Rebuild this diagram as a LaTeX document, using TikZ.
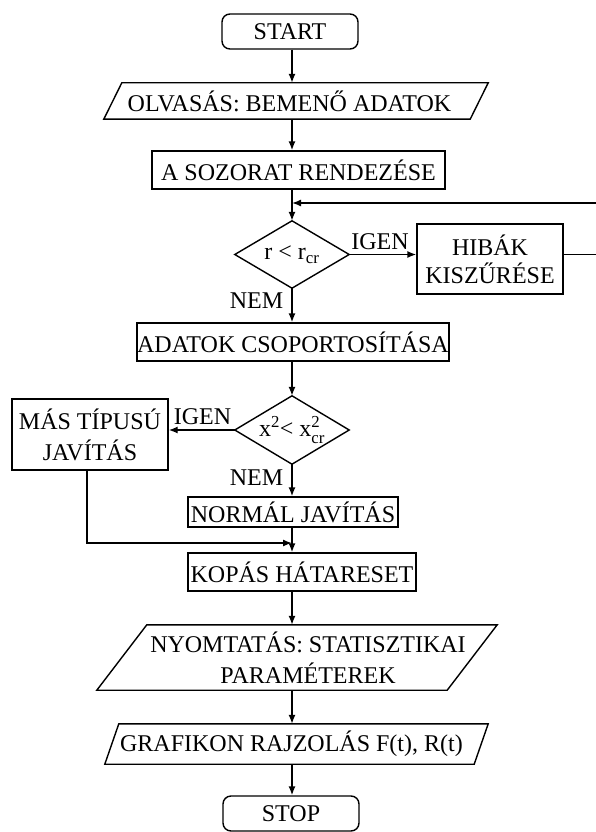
\documentclass[tikz,border=0pt]{standalone}
\usepackage{amsmath}
\usepackage{fontspec}
\setmainfont{Liberation Serif}
\usetikzlibrary{arrows.meta}
\newcommand\fsz{\fontsize{24}{28}\selectfont}
\newcommand\fszb{\fontsize{24}{31}\selectfont}
\begin{document}
\begin{tikzpicture}[x=1pt,y=-1pt,
  lw/.style={line width=1.4pt},
  box/.style={draw, lw, rectangle, font=\fsz, inner sep=0pt, align=center},
  term/.style={box, rounded corners=8pt},
  shapebox/.style={rectangle, inner sep=0pt, font=\fsz, align=center},
  lbl/.style={font=\fsz, inner sep=0pt},
  arr/.style={lw, -{Latex[length=9pt,width=7pt]}}]
\useasboundingbox (0,0) rectangle (595,832);

\coordinate (sp) at (292,0);
\coordinate (rc) at (597,0);
\coordinate (fb) at (292,203);
\coordinate (mx) at (87,0);
\coordinate (jn) at (292,543);

% nodes
\node[term, minimum width=136pt, minimum height=35pt] (start) at (290,31.5) {START};
\node[shapebox, minimum width=384pt, minimum height=36pt,
      label={[lbl, xshift=-6.5pt]center:OLVASÁS: BEMENŐ ADATOK}] (olv) at (296,101) {};
\node[box, minimum width=293pt, minimum height=38pt] (soz) at (298.5,170) {A SOZORAT RENDEZÉSE};
\node[shapebox, minimum width=114pt, minimum height=67pt] (d1) at (292,254.5) {r < r\textsubscript{cr}};
\node[box, minimum width=146pt, minimum height=70pt] (hib) at (490,259) {HIBÁK\\KISZŰRÉSE};
\node[box, minimum width=310pt, minimum height=38pt] (ado) at (293,342) {ADATOK CSOPORTOSÍTÁSA};
\node[shapebox, minimum width=114pt, minimum height=68pt] (d2) at (292,430)
  {$\text{x}^{\text{2}}$< $\text{x}^{\text{2}}_{\text{cr}}$};
\node[box, minimum width=156pt, minimum height=71pt, font=\fszb] (mas) at (90,434.5) {MÁS TÍPUSÚ\\JAVÍTÁS};
\node[box, minimum width=210pt, minimum height=30pt] (nor) at (293,512) {NORMÁL JAVÍTÁS};
\node[box, minimum width=228pt, minimum height=38pt] (kop) at (302,572) {KOPÁS HÁTARESET};
\node[shapebox, minimum width=400pt, minimum height=65pt,
      label={[lbl, font=\fszb, align=center, xshift=11pt]center:NYOMTATÁS: STATISZTIKAI\\PARAMÉTEREK}] (nyo) at (297,657.5) {};
\node[shapebox, minimum width=383pt, minimum height=40pt,
      label={[lbl, xshift=-5pt]center:GRAFIKON RAJZOLÁS F(t), R(t)}] (gra) at (296.5,744) {};
\node[term, minimum width=136pt, minimum height=35pt] (stop) at (291,813.5) {STOP};

% outlines of parallelograms and diamonds
\draw[lw] ([xshift=18pt]olv.north west) -- (olv.north east) -- ([xshift=-18pt]olv.south east) -- (olv.south west) -- cycle;
\draw[lw] ([xshift=50pt]nyo.north west) -- (nyo.north east) -- ([xshift=-50pt]nyo.south east) -- (nyo.south west) -- cycle;
\draw[lw] ([xshift=14pt]gra.north west) -- (gra.north east) -- ([xshift=-14pt]gra.south east) -- (gra.south west) -- cycle;
\draw[lw] (d1.north) -- (d1.east) -- (d1.south) -- (d1.west) -- cycle;
\draw[lw] (d2.north) -- (d2.east) -- (d2.south) -- (d2.west) -- cycle;

% labels
\node[lbl] (igen1) at (380,242) {IGEN};
\node[lbl] (nem1) at (256.5,301) {NEM};
\node[lbl] (igen2) at (202.5,417) {IGEN};
\node[lbl] (nem2) at (256.5,478) {NEM};

% connectors
\draw[arr] (start.south -| sp) -- (olv.north -| sp);
\draw[arr] (olv.south -| sp) -- (soz.north -| sp);
\draw[arr] (soz.south -| sp) -- (d1.north);
\draw[arr] (d1.east) -- (d1.east -| hib.west);
\draw[arr] (hib.east |- d1.east) -- (rc |- d1.east) -- (rc |- fb) -- (fb);
\draw[arr] (d1.south) -- (ado.north -| sp);
\draw[arr] (ado.south -| sp) -- (d2.north);
\draw[arr] (d2.west) -- (d2.west -| mas.east);
\draw[arr] (d2.south) -- (nor.north -| sp);
\draw[arr] (mas.south -| mx) -- (mx |- jn) -- (jn);
\draw[arr] (nor.south -| sp) -- (kop.north -| sp);
\draw[arr] (kop.south -| sp) -- (nyo.north -| sp);
\draw[arr] (nyo.south -| sp) -- (gra.north -| sp);
\draw[arr] (gra.south -| sp) -- (stop.north -| sp);
\end{tikzpicture}
\end{document}
